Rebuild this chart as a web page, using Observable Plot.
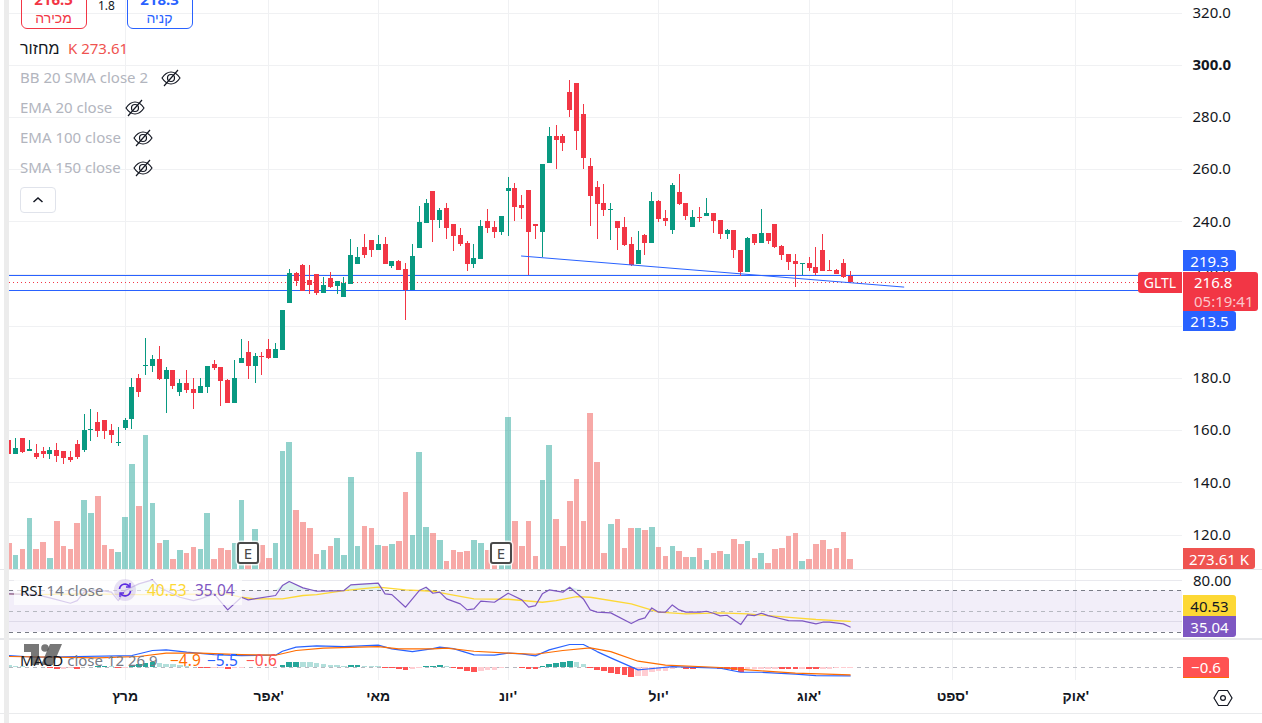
<!DOCTYPE html>
<html lang="he">
<head>
<meta charset="utf-8">
<script src="https://cdn.jsdelivr.net/npm/d3@7"></script>
<script src="https://cdn.jsdelivr.net/npm/@observablehq/plot@0.6"></script>
<style>
html,body{margin:0;padding:0;background:#fff;overflow:hidden}
#root{position:relative;width:1262px;height:723px;overflow:hidden;font-family:"Noto Sans","Liberation Sans",sans-serif;color:#131722}
#root svg.layer{position:absolute;left:0;max-width:none;height:auto}
.t{position:absolute;white-space:nowrap;font-size:15px;line-height:20px}
.box{position:absolute;display:flex;align-items:center;justify-content:center;font-size:15px;white-space:nowrap;box-sizing:border-box}
.ln{position:absolute;left:0;width:1262px}
</style>
</head>
<body>
<div id="root"></div>
<script>
const open=[156.2,150.9,157.0,152.0,151.2,152.0,150.9,152.4,152.0,149.7,154.7,152.4,160.1,163.1,163.9,160.1,155.1,160.8,164.3,180.0,184.7,184.6,187.3,179.6,183.1,174.6,178.1,175.8,174.3,176.5,185.4,184.2,179.2,170.4,185.7,189.9,184.6,188.4,191.1,187.7,190.7,208.7,220.2,223.3,217.6,219.9,212.6,218.3,215.3,211.0,216.0,223.7,230.2,232.9,229.1,231.3,222.9,224.8,221.8,213.7,229.8,239.4,251.7,240.5,245.1,239.0,234.8,231.7,223.7,225.6,240.2,237.9,235.9,251.7,252.8,246.3,252.0,239.0,235.9,262.4,272.7,272.7,289.6,293.0,281.1,261.2,253.2,247.0,244.4,240.1,237.9,231.3,223.7,234.8,231.7,247.8,241.3,236.7,251.3,247.0,237.9,241.7,242.1,243.2,240.5,235.2,236.7,229.0,220.6,235.2,231.7,235.5,239.0,230.6,227.5,224.8,223.7,224.1,222.5,229.0,221.4,221.4,224.1,219.1];
const high=[157.0,157.0,157.0,156.2,154.7,153.6,153.6,155.1,152.0,152.0,156.2,166.2,168.1,167.0,163.9,162.4,161.2,164.7,180.0,181.5,195.3,188.8,192.3,184.2,183.1,179.6,183.1,180.0,180.0,184.6,186.9,184.2,179.6,186.9,194.9,194.2,189.6,189.9,194.9,193.4,206.0,221.8,220.6,223.7,223.3,219.9,218.7,220.6,217.2,218.7,233.3,230.2,235.2,232.9,234.8,234.0,224.8,225.2,224.1,231.3,245.9,248.6,251.7,245.1,247.1,239.0,237.5,232.5,231.3,240.5,244.8,240.2,242.1,257.0,254.7,250.1,252.0,239.0,262.0,276.2,276.9,273.5,294.2,293.0,285.0,264.3,255.5,254.3,247.0,240.1,241.7,234.0,236.3,235.2,251.3,248.2,244.4,254.7,258.2,247.0,244.4,245.5,249.0,243.2,240.5,237.1,236.7,229.0,234.0,235.2,244.7,235.5,239.0,231.0,227.5,227.5,224.1,226.4,230.2,235.2,225.2,221.8,225.6,221.0];
const low=[150.5,150.9,151.3,152.0,149.0,149.4,149.0,147.8,147.1,147.8,149.0,151.7,155.9,157.4,156.6,155.1,153.9,160.1,160.5,172.7,181.1,182.3,179.2,166.6,175.8,173.1,174.3,168.1,174.3,174.3,183.1,169.3,170.4,170.4,185.7,179.6,178.1,181.1,187.3,187.7,190.7,208.7,215.3,213.3,212.2,211.8,212.6,214.5,212.2,211.0,216.0,223.7,226.0,226.4,229.1,223.7,222.2,221.4,202.2,213.7,229.8,239.4,232.1,237.5,233.3,228.7,230.6,221.0,222.2,225.6,235.6,233.6,234.8,234.4,240.2,240.9,219.5,233.3,226.4,262.4,260.1,267.0,280.0,267.4,260.1,238.2,233.3,242.1,232.9,229.0,230.6,222.9,223.7,227.1,231.7,239.8,238.2,235.2,246.3,240.5,237.9,239.8,242.1,235.5,233.2,233.2,226.0,219.1,220.6,231.0,231.7,231.3,229.8,225.2,221.4,214.9,219.5,221.0,219.5,221.0,221.0,219.8,218.3,216.4];
const close=[150.9,153.2,151.7,152.8,149.7,150.9,152.4,150.1,149.3,148.6,149.7,160.1,160.5,159.7,159.7,158.2,155.5,163.9,176.5,174.6,185.0,187.3,179.6,183.1,176.9,178.1,175.4,174.3,176.9,184.6,183.8,178.8,170.4,180.0,187.7,184.6,188.4,188.0,187.7,191.1,206.0,220.2,217.2,213.3,215.6,212.6,215.6,214.9,217.2,216.4,227.1,226.4,227.1,229.1,231.3,223.7,224.8,221.4,213.7,226.8,239.8,247.1,240.5,244.4,237.5,234.4,231.3,223.7,226.0,238.2,237.5,235.9,242.1,252.8,245.5,245.1,235.9,238.2,262.0,272.7,271.2,270.0,282.7,274.6,264.3,249.7,246.7,244.4,244.8,237.5,231.0,223.3,229.0,231.7,247.8,240.9,240.1,253.9,246.7,242.1,241.7,241.3,243.2,240.1,235.2,236.7,229.0,220.6,233.6,231.7,235.5,232.5,230.2,227.1,224.4,223.7,224.1,222.1,220.2,221.0,221.0,219.8,218.7,216.8];
const volumeK=[711,383,547,1395,547,739,301,1313,629,547,1259,1888,1532,1997,657,547,465,1423,2873,1724,3666,1806,711,793,274,520,438,602,547,1532,274,575,520,711,1888,430,1094,657,301,711,3228,3475,1614,1286,1122,410,520,629,848,383,2517,629,1176,1122,657,629,684,766,2107,930,3201,1149,985,793,219,520,465,492,793,711,520,109,109,4159,1313,629,1313,356,2435,3393,1368,629,1860,2462,1313,4268,2928,438,1231,1368,575,1122,1122,1067,1149,602,356,629,492,328,328,575,246,438,492,410,821,684,766,301,438,164,547,575,903,985,219,274,684,793,547,575,1012,274];
const rsiBar=[1,5,7,10,11,12,14,16,17,18,20,22,23,26,28,29,31,33,35,36,40,41,42,44,46,50,51,55,56,57,59,61,62,63,64,65,67,68,69,70,72,74,76,77,78,79,80,82,83,85,86,87,89,92,93,94,95,96,97,98,99,100,102,103,104,105,106,108,109,110,111,112,113,115,117,119,120,121,123,124];
const rsiValue=[67.1,66.4,63.2,58.0,60.6,68.7,70.9,68.7,60.6,70.3,76.7,80.6,73.5,63.8,60.6,62.2,67.1,51.6,63.8,61.3,65.5,75.1,79.0,72.9,69.6,70.3,75.8,77.4,67.1,66.4,54.2,70.3,73.5,67.7,68.7,62.2,57.4,51.6,52.6,60.0,59.0,67.7,61.3,54.2,55.8,67.1,70.9,68.7,73.5,62.2,51.6,49.4,48.7,38.4,41.9,43.9,53.5,49.4,49.4,56.4,51.6,49.4,49.4,50.3,48.4,45.8,46.4,37.4,46.8,46.1,48.4,46.1,44.5,41.3,41.0,38.1,39.7,39.7,38.1,35.04];
const rsiMaBar=[1,5,12,20,33,35,37,41,44,46,50,55,59,63,65,69,74,79,81,84,86,92,96,100,105,109,116,119,124];
const rsiMaValue=[67.1,66.4,67.1,66.4,67.1,63.8,62.2,62.2,65.5,66.4,70.3,73.5,70.9,69.6,67.1,62.2,61.9,59.0,60.6,64.5,63.8,57.4,49.4,47.7,48.7,47.7,43.9,42.3,40.53];
const macdBar=[1,5,19,22,24,27,31,35,40,41,43,46,50,55,57,60,63,64,66,69,72,74,76,78,80,83,85,87,89,93,94,98,105,108,111,116,119,124];
const macdValue=[7.4,6.3,7.4,10.6,11.0,9.5,8.0,7.4,7.6,10.1,12.7,13.5,13.1,14.0,11.6,9.9,11.8,12.7,11.8,7.8,7.6,8.9,8.5,7.2,11.0,14.4,14.4,9.9,5.9,-1.7,-1.3,0.4,-0.6,-3.2,-3.2,-4.4,-5.3,-5.5];
const signalBar=[1,14,20,24,29,35,40,43,47,55,58,63,65,69,74,78,82,86,89,93,97,105,109,116,124];
const signalValue=[6.8,5.9,6.8,8.9,8.9,8.0,7.6,10.6,12.1,13.1,11.6,11.6,12.1,10.1,8.9,8.2,10.6,12.3,9.9,3.8,1.3,-0.2,-1.7,-3.8,-4.9];
const histogram=[.8,.6,.4,.1,-.3,-.5,-1,-1.2,-1.15,-1.1,-1.2,-.3,-.2,.2,.4,.3,-.8,-.6,1,1.5,2.2,3.2,2.5,2,1.6,1,.4,-.3,-.6,-1,-.9,-.8,-1.5,-1,-.6,-.3,-.2,-.15,-.1,.1,1,3,3.1,3,2.8,2.5,1.8,1.2,.8,.4,1,1.1,.7,.6,.3,-1,-1.1,-1.5,-2.4,-1.5,-.8,.3,.5,1,.2,-1,-1.5,-3,-3.3,-2.7,-2,-1.9,-1,-.5,-.2,-1,-1.5,-1.6,.2,2,2.5,3,3.6,3,1.5,-.8,-2,-3,-4,-4.5,-5,-6.5,-6,-5.7,-3.5,-3,-2.5,-1.2,-.5,-1.4,-1.5,-.8,-.75,-.7,-1.3,-1.6,-2,-3.2,-1.6,-1.5,-1.4,-1.3,-1.2,-1.4,-1.5,-1.6,-1.3,-1.4,-1.5,-1.3,-1.2,-1,-.9,-.6];
const trendBar=[75.95,131.84], trendPrice=[226.9,215.0];
const priceLevels=[219.3,213.5], lastPrice=216.8;
const priceTicks=[120,140,160,180,200,220,240,260,280,320], priceTickBold=[300];
const monthBars=[18,39,55,74,96,118,139,157];
const monthLabels=["מרץ","\u200F'אפר","מאי","\u200F'יונ","\u200F'יול","\u200F'אוג","\u200F'ספט","\u200F'אוק"];
const earningsBars=[36,72];

const bars=d3.range(open.length).map(i=>({i:i+1,o:open[i],h:high[i],l:low[i],c:close[i],v:volumeK[i],hist:histogram[i],up:close[i]>=open[i]}));
const UP="#089981",DOWN="#f23645";
const xDomain=[1.098,172.59];
const base={width:1262,marginLeft:9,marginRight:80,marginTop:0,marginBottom:0,style:{background:"transparent",fontFamily:'"Noto Sans","Liberation Sans",sans-serif'}};
const xs={domain:xDomain,axis:null};
const root=document.getElementById("root");
function add(svg,top){svg.classList.add("layer");svg.style.top=top+"px";root.appendChild(svg);return svg;}
const GRID="#f0f1f3";
const crisp={shapeRendering:"crispEdges"};

// Price + volume panes
add(Plot.plot({...base,height:570,x:xs,y:{domain:[0,15568],range:[569,0],axis:null},marks:[
  Plot.gridX(monthBars,{stroke:GRID,strokeOpacity:1,...crisp}),
]}),0);
add(Plot.plot({...base,height:570,x:xs,y:{domain:[106.6,324.8],range:[569.5,0],axis:null},marks:[
  Plot.ruleY([...priceTicks,...priceTickBold],{stroke:GRID,x1:xDomain[0],x2:xDomain[1],...crisp}),
  Plot.axisY(priceTicks,{anchor:"right",tickSize:0,tickPadding:10,fontSize:15,textAnchor:"start",tickFormat:d3.format(".1f"),label:null,color:"#131722"}),
  Plot.axisY(priceTickBold,{anchor:"right",tickSize:0,tickPadding:10,fontSize:15,fontWeight:"bold",textAnchor:"start",tickFormat:d3.format(".1f"),label:null,color:"#131722"}),
]}),0);
add(Plot.plot({...base,height:570,x:xs,y:{domain:[0,15568],range:[569,0],axis:null},marks:[
  Plot.ruleX(bars,{x:"i",y1:0,y2:"v",strokeWidth:5.6,stroke:d=>d.up?"#26a69a":"#ef5350",strokeOpacity:.5,...crisp}),
]}),0);
add(Plot.plot({...base,height:570,x:xs,y:{domain:[106.6,324.8],range:[569.5,0],axis:null},clip:true,marks:[
  Plot.ruleY(priceLevels,{stroke:"#2962ff",strokeWidth:1,...crisp}),
  Plot.ruleY([lastPrice],{stroke:DOWN,strokeWidth:1,strokeDasharray:"1 3",...crisp}),
  Plot.ruleX(bars,{x:"i",y1:"l",y2:"h",strokeWidth:1,stroke:d=>d.up?UP:DOWN,...crisp}),
  Plot.ruleX(bars,{x:"i",y1:"o",y2:"c",strokeWidth:5,stroke:d=>d.up?UP:DOWN,...crisp}),
  Plot.line(trendBar.map((b,k)=>({b,p:trendPrice[k]})),{x:"b",y:"p",stroke:"#2962ff",strokeWidth:1}),
]}),0);

// RSI pane
const rsiPts=rsiBar.map((b,k)=>({b,v:rsiValue[k]}));
add(Plot.plot({...base,height:68,x:xs,y:{domain:[23.96,89.66],range:[68,0],axis:null},marks:[
  Plot.gridX(monthBars,{stroke:GRID,strokeOpacity:1,...crisp}),
  Plot.ruleY([80,40],{stroke:"#e9e9ee",...crisp}),
  Plot.rectY([{}],{x1:xDomain[0],x2:xDomain[1],y1:30,y2:70,fill:"#7e57c2",fillOpacity:.1}),
  Plot.ruleY([70,30],{stroke:"#787b86",strokeDasharray:"4 4",...crisp}),
  Plot.ruleY([50],{stroke:"#b6b8c0",strokeDasharray:"4 4",...crisp}),
  Plot.areaY(rsiPts,{x:"b",y1:70,y2:d=>Math.max(d.v,70),fill:"#089981",fillOpacity:.12}),
  Plot.line(rsiMaBar.map((b,k)=>({b,v:rsiMaValue[k]})),{x:"b",y:"v",stroke:"#fdd835",strokeWidth:1.3}),
  Plot.line(rsiPts,{x:"b",y:"v",stroke:"#7e57c2",strokeWidth:1.2}),
]}),570);

// MACD pane
const histColor=(d,k)=>{const p=k>0?histogram[k-1]:d.hist;return d.hist>=0?(d.hist>p?"#26a69a":"#b2dfdb"):(d.hist<p?"#ff5252":"#ffcdd2");};
add(Plot.plot({...base,height:40,x:xs,y:{domain:[-8.43,16.93],range:[40,0],axis:null},marks:[
  Plot.gridX(monthBars,{stroke:GRID,strokeOpacity:1,...crisp}),
  Plot.ruleY([0],{stroke:"#b6b8c0",strokeDasharray:"4 4",...crisp}),
  Plot.ruleX(bars,{x:"i",y1:0,y2:"hist",strokeWidth:5.6,stroke:histColor,...crisp}),
  Plot.line(macdBar.map((b,k)=>({b,v:macdValue[k]})),{x:"b",y:"v",stroke:"#2962ff",strokeWidth:1.2}),
  Plot.line(signalBar.map((b,k)=>({b,v:signalValue[k]})),{x:"b",y:"v",stroke:"#ff6d00",strokeWidth:1.2}),
]}),640);

// Time axis
add(Plot.plot({...base,height:43,marginTop:0,marginBottom:37,x:{domain:xDomain,axis:null},marks:[
  Plot.axisX(monthBars,{anchor:"bottom",tickSize:0,tickPadding:5,fontSize:14,fontWeight:"bold",label:null,color:"#131722",tickFormat:(d,k)=>monthLabels[k]}),
]}),680);

// Chrome: separators and side strip
function div(css,cls,html){const e=document.createElement("div");if(cls)e.className=cls;e.style.cssText=css;if(html!=null)e.innerHTML=html;root.appendChild(e);return e;}
div("top:569px;height:1px;background:#e6e7ea","ln");
div("top:638px;height:2px;background:#e6e7ea","ln");
div("top:713px;height:1px;background:#eaebed","ln");
div("position:absolute;left:4px;top:0;width:5px;height:723px;background:#ececec");

// Pricing labels
function label(txt,l,t,w,h,bg,col,extra){return div(`left:${l}px;top:${t}px;width:${w}px;height:${h}px;background:${bg};color:${col};${extra||""}`,"box",txt);}
label("GLTL",1138,272,44,21,DOWN,"#fff","border-radius:3px 0 0 3px;font-size:14px");
label("219.3",1183,250,53,21,"#2962ff","#fff","border-radius:0 3px 3px 0");
label("213.5",1183,311,53,20,"#2962ff","#fff","border-radius:0 3px 3px 0");
label('<div style="text-align:left;line-height:19px;width:100%;padding-left:11px;box-sizing:border-box">216.8<br><span style="color:#fbc5ca">05:19:41</span></div>',1183,272,75,39,DOWN,"#fff","border-radius:0 3px 3px 0");
label("273.61 K",1183,548,72,21,"#ef5350","#fff","border-radius:0 3px 3px 0");
div("left:1193px;top:570px","t","80.00");
label("40.53",1183,595,53,21,"#fdd835","#131722","border-radius:0 3px 0 0");
label("35.04",1183,616,53,21,"#7e57c2","#fff","border-radius:0 0 3px 0");
label("−0.6",1183,657,46,21,"#ff5252","#fff","border-radius:0 3px 0 0;border-bottom:1px solid #ff6d00");
div("left:1213px;top:689px;width:20px;height:18px","t",`<svg width="20" height="18" viewBox="0 0 20 18"><path d="M5.500 1.500h9L19 9l-4.500 7.500h-9L1 9z" fill="none" stroke="#131722" stroke-width="1.2"/><circle cx="10" cy="9" r="2.400" fill="none" stroke="#131722" stroke-width="1.2"/></svg>`);

// Top-left legend
div("position:absolute;left:20.5px;top:-20px;width:66px;height:48.5px;border:1px solid #f23645;border-radius:6px;box-sizing:border-box;text-align:center;color:#f23645;font-size:14px;line-height:18px","", '<div style="font-weight:bold;font-size:15px;line-height:19px;margin-top:9px">216.5</div><div style="font-size:14px;line-height:17px">מכירה</div>');
div("position:absolute;left:126.5px;top:-20px;width:66px;height:48.5px;border:1px solid #2962ff;border-radius:6px;box-sizing:border-box;text-align:center;color:#2962ff;font-size:14px;line-height:18px","", '<div style="font-weight:bold;font-size:15px;line-height:19px;margin-top:9px">218.3</div><div style="font-size:14px;line-height:17px">קניה</div>');
div("left:98px;top:-4px;font-size:12px","t","1.8");
div("left:20px;top:38px;font-size:16px","t","מחזור");
div("left:68px;top:38px;color:#ef5350","t","K 273.61");
const eye=`<svg width="22" height="22" viewBox="0 0 22 22"><path d="M2 11c3-4.500 6-6 9-6s6 1.500 9 6c-3 4.500-6 6-9 6s-6-1.500-9-6z" fill="none" stroke="#131722" stroke-width="1.2"/><circle cx="11" cy="11" r="3.500" fill="none" stroke="#131722" stroke-width="1.200"/><path d="M4 19L18 3" stroke="#131722" stroke-width="1.200"/></svg>`;
[["BB 20 SMA close 2",78,160],["EMA 20 close",108,124],["EMA 100 close",138,132],["SMA 150 close",168,132]].forEach(([t,y,ex])=>{
  div(`left:20px;top:${y-11}px;color:#b2b5be`,"t",t);
  div(`position:absolute;left:${ex}px;top:${y-11}px;height:22px`,"",eye);
});
div("position:absolute;left:20px;top:187px;width:36px;height:26px;border:1px solid #e0e3eb;border-radius:4px;box-sizing:border-box;background:#fff","",`<svg width="34" height="24" viewBox="0 0 34 24"><path d="M12.500 14l4.500-4 4.500 4" fill="none" stroke="#131722" stroke-width="1.500"/></svg>`);

// Indicator legends
div("position:absolute;left:14px;top:580px;width:228px;height:25px;background:rgba(255,255,255,.7)");
div("left:20px;top:580px;color:#434651","t",'<span style="color:#131722">RSI</span> <span style="color:#787b86">14 close</span>');
div("position:absolute;left:114px;top:579px;width:22px;height:22px;border-radius:50%;background:rgba(126,87,194,.18)","",`<svg width="22" height="22" viewBox="0 0 22 22"><path d="M5.500 10a5.500 5.500 0 0 1 10-2.500M16.500 12a5.500 5.500 0 0 1-10 2.500" fill="none" stroke="#5b2be0" stroke-width="1.700"/><path d="M16 4v4h-4M6 18v-4h4" fill="none" stroke="#5b2be0" stroke-width="1.400"/></svg>`);
div("left:147px;top:580px;color:#fdd835;font-size:15.500px","t","40.53");
div("left:195px;top:580px;color:#7e57c2;font-size:15.500px","t","35.04");
div("position:absolute;left:24px;top:644px","",`<svg width="38" height="21" viewBox="0 0 38 21" fill="#4a4a4a" fill-opacity=".75"><path d="M0 0h15v21H7V8H0z"/><circle cx="21" cy="4" r="3.800"/><path d="M26 0h12L29 21H17z"/></svg>`);
div("left:20px;top:650px;color:#787b86","t",'<span style="color:#131722">MACD</span> close 12 26 9');
div("left:170px;top:650px;color:#ff6d00;font-size:15.500px","t","−4.9");
div("left:207px;top:650px;color:#2962ff;font-size:15.500px","t","−5.5");
div("left:246px;top:650px;color:#ff5252;font-size:15.500px","t","−0.6");

// Earnings badges
earningsBars.forEach(b=>{
  const cx=b===36?248:501;
  div(`position:absolute;left:${cx-11}px;top:542px;width:22px;height:22px;border:2px solid #4a4a4a;border-radius:3px;box-sizing:border-box;background:#fff;color:#4a4a4a;font-size:15px;display:flex;align-items:center;justify-content:center;box-shadow:0 0 0 1.500px rgba(255,255,255,.8)`,"","E");
});
</script>
</body>
</html>
